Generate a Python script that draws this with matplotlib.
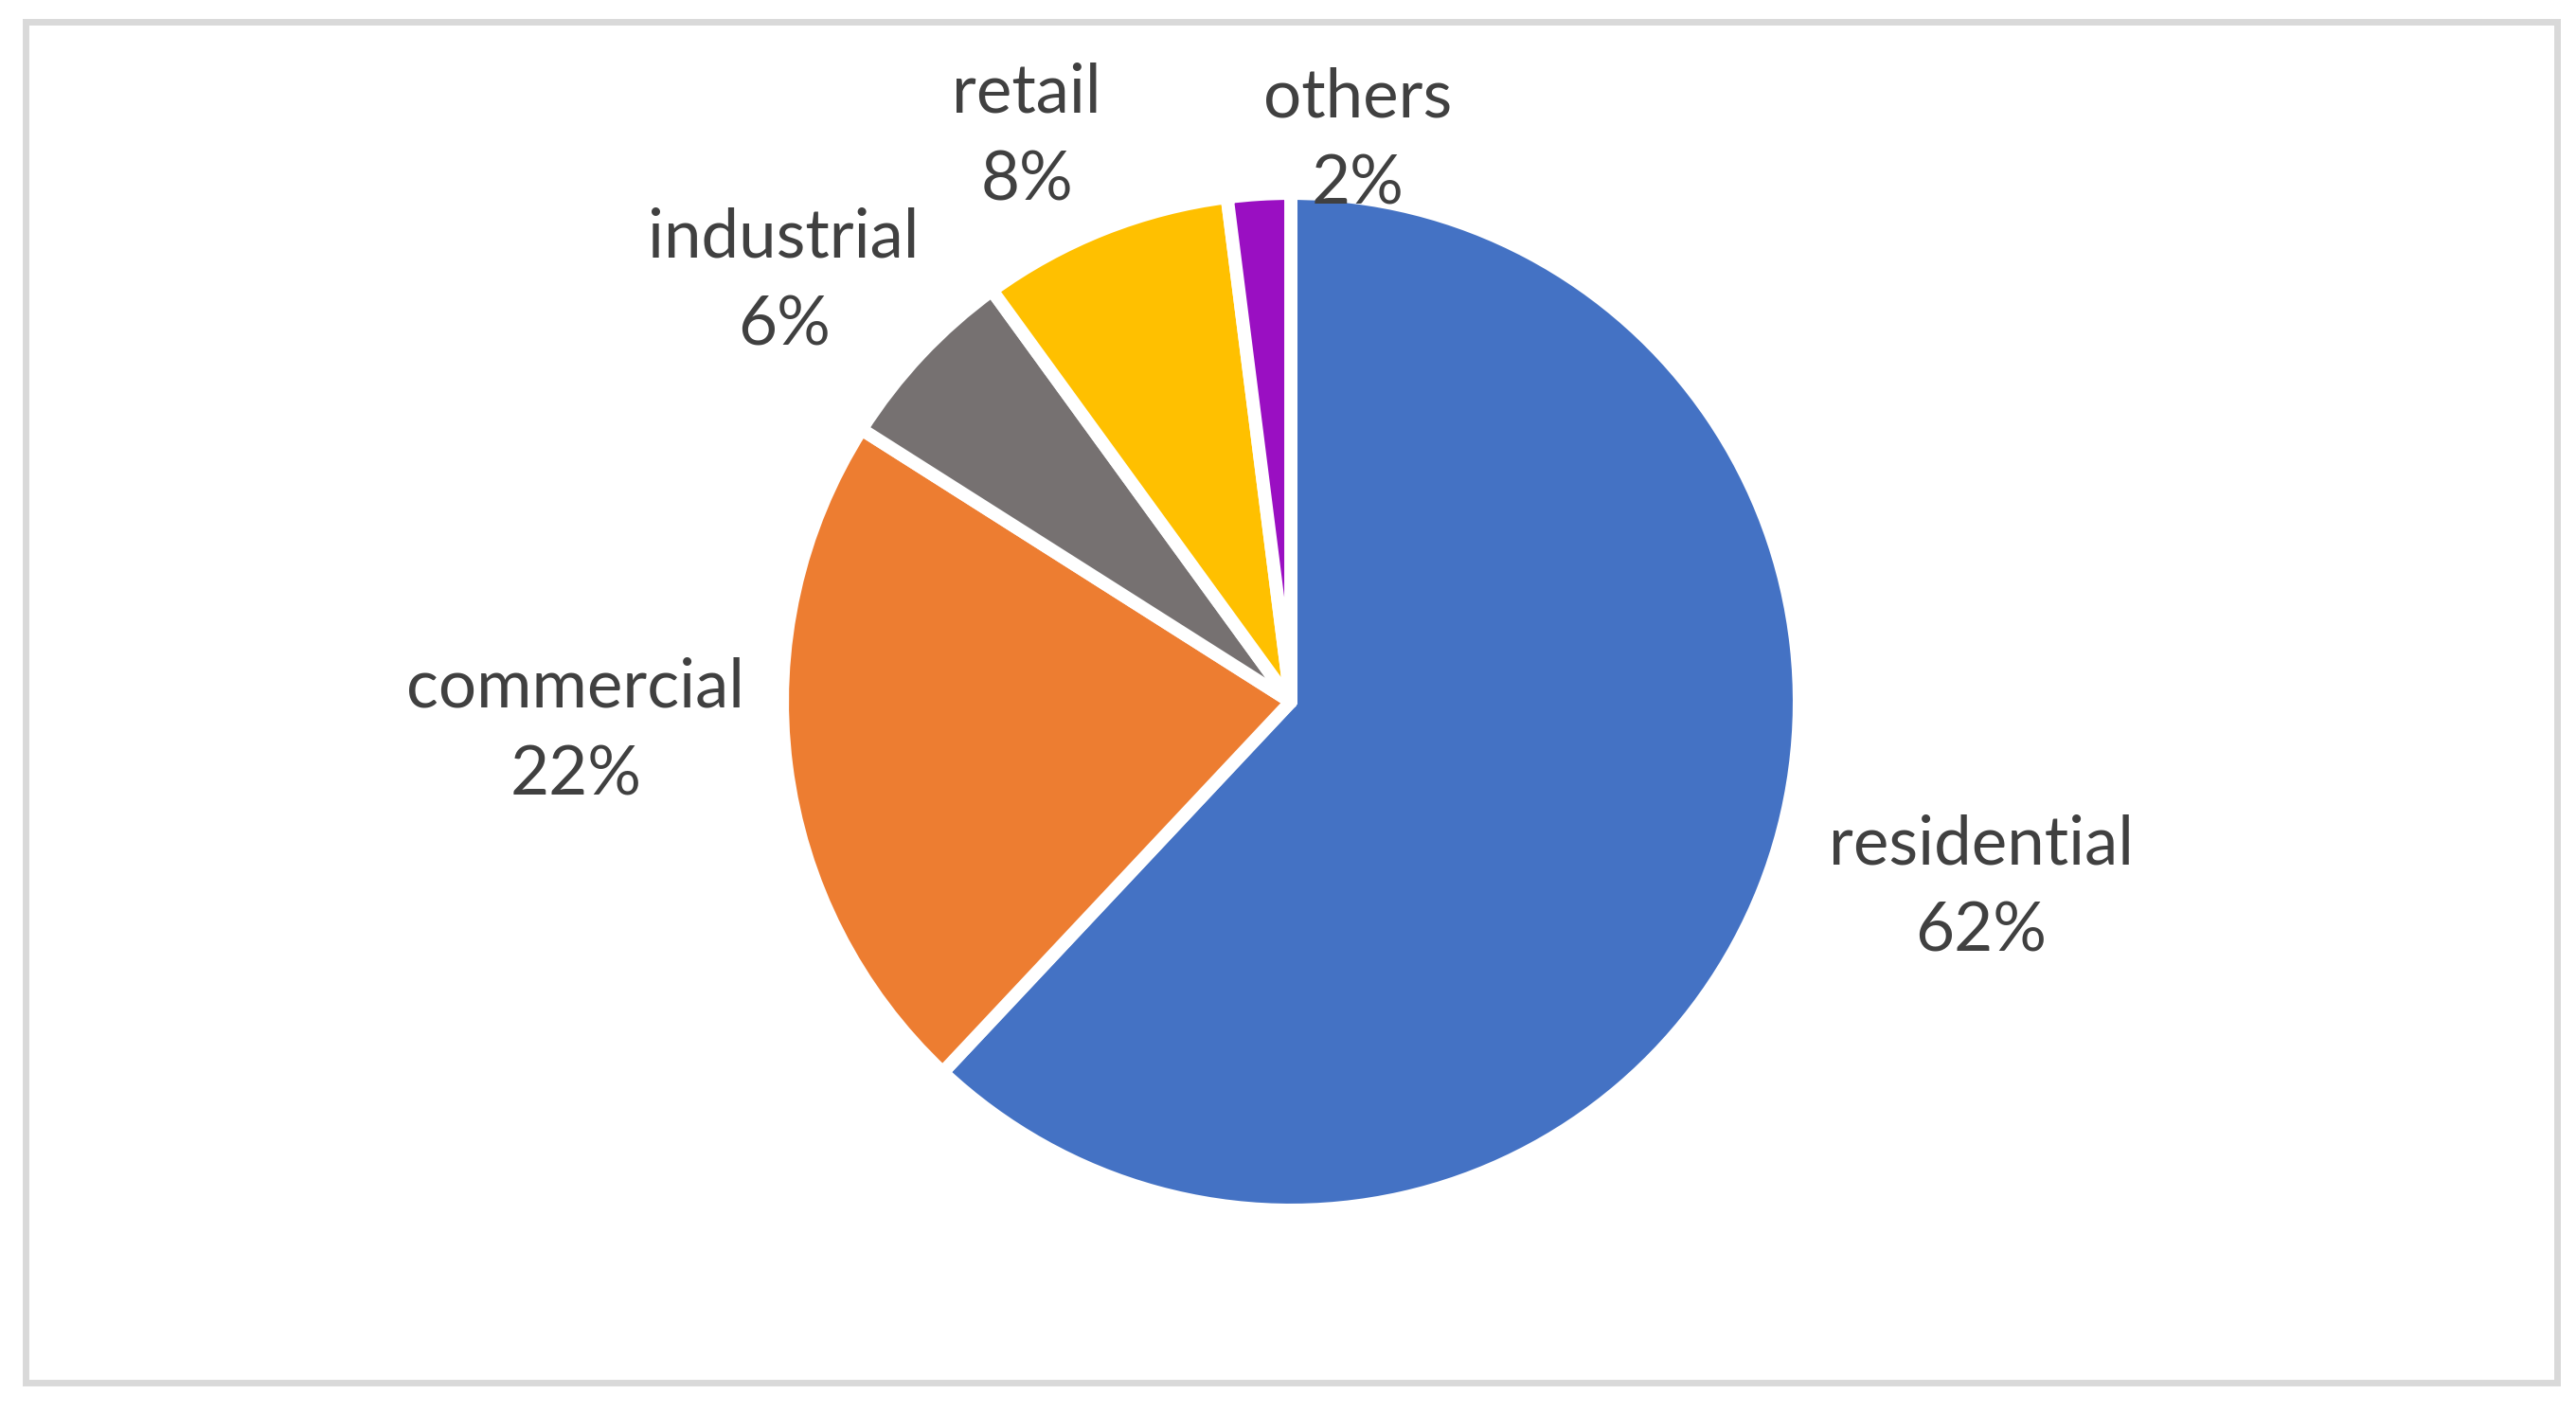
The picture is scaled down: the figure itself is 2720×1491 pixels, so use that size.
import matplotlib
matplotlib.use("Agg")
import matplotlib.pyplot as plt
from matplotlib.patches import Rectangle

# data
categories = ["residential", "commercial", "industrial", "retail", "others"]
shares = [62, 22, 6, 8, 2]
colors = ["#4472C4", "#ED7D31", "#767171", "#FFC000", "#9A0FC2"]

# label anchors: (x centre, baseline of first line), in pie-radius units
label_pos = [(1.375, -0.323), (-1.425, -0.011), (-1.010, 0.885), (-0.526, 1.174), (0.134, 1.166)]
line_gap = 0.1745

W, H, DPI = 2720, 1491, 200
fig = plt.figure(figsize=(W / DPI, H / DPI), dpi=DPI)
ax = fig.add_axes([0, 0, 1, 1])

R = 530.0
cx, cy = 1363.0, 741.0

wedges, _ = ax.pie(shares, colors=colors, startangle=90, counterclock=False,
                   radius=1.013, center=(0, 0),
                   wedgeprops=dict(edgecolor="white", linewidth=5.0, joinstyle="round"))

txt = dict(ha="center", va="baseline", fontsize=25.5, family="Lato", color="#404040")
for name, val, (x, y) in zip(categories, shares, label_pos):
    ax.text(x, y, name, **txt)
    ax.text(x, y - line_gap, f"{val}%", **txt)

ax.set_xlim(-cx / R, (W - cx) / R)
ax.set_ylim(-(H - cy) / R, cy / R)
ax.set_aspect("auto")
ax.axis("off")

# chart border
fig.patches.append(Rectangle((26.5 / W, (H - 1460) / H), 2673 / W, 1437.5 / H,
                             transform=fig.transFigure, fill=False,
                             edgecolor="#D9D9D9", linewidth=2.5))

fig.savefig("out.png", dpi=DPI, facecolor="white")
